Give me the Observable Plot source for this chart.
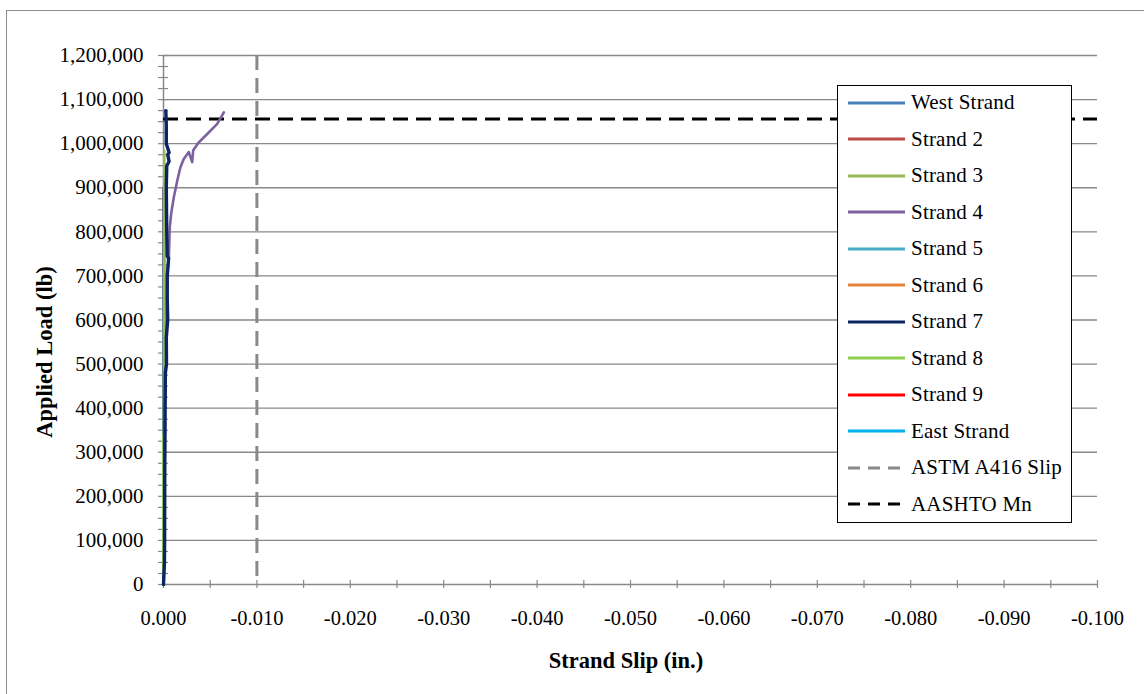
<!DOCTYPE html>
<html><head><meta charset="utf-8">
<script src="https://cdn.jsdelivr.net/npm/d3@7"></script>
<script src="https://cdn.jsdelivr.net/npm/@observablehq/plot@0.6"></script>
<style>
html,body{margin:0;padding:0;background:#fff;overflow:hidden;}
#wrap{position:relative;width:1144px;height:694px;overflow:hidden;font-family:"Liberation Serif","Times New Roman",serif;}
#chart{position:absolute;left:0;top:0;}
#frame{position:absolute;left:6px;top:10px;width:1300px;height:800px;border:1.5px solid #8c8c8c;box-sizing:border-box;pointer-events:none;}
#legend{position:absolute;left:837px;top:85px;width:235px;height:438px;border:1.5px solid #000;background:#fff;box-sizing:border-box;}
.row{position:absolute;left:0;height:36.5px;display:flex;align-items:center;font-size:21px;letter-spacing:0.2px;color:#000;white-space:nowrap;}
.row svg{margin-left:10px;margin-right:6px;}
.title{position:absolute;font-weight:bold;font-size:22.5px;white-space:nowrap;color:#000;transform:translate(-50%,-50%);line-height:1;}
#ytitle{transform:translate(-50%,-50%) rotate(-90deg);}
</style></head><body>
<div id="wrap"><div id="chart"></div><div id="frame"></div><div id="legend"></div>
<div class="title" id="xtitle" style="left:626px;top:661px;"></div>
<div class="title" id="ytitle" style="left:45px;top:352px;"></div>
</div>
<script>
// ---- Data ----
const xTitle = "Strand Slip (in.)";
const yTitle = "Applied Load (lb)";
const seriesNames = ["West Strand","Strand 2","Strand 3","Strand 4","Strand 5","Strand 6","Strand 7","Strand 8","Strand 9","East Strand"];
const seriesColors = ["#4a7ebb","#be4b48","#98b954","#7d60a0","#4bacc6","#e5853e","#0b2463","#92d050","#ff0000","#00b0f0"];

const loadWest = [0, 300000, 600000, 900000];
const slipWest = [0, -0.00002, -0.00004, -0.00005];
const load2 = [0, 300000, 600000, 900000];
const slip2 = [0, -0.00002, -0.00003, -0.00004];
const load3 = [0, 200000, 400000, 600000, 800000, 900000, 984000];
const slip3 = [0, -0.00003, -0.00005, -0.00007, -0.00008, -0.00008, -0.00008];
const load4 = [0, 200000, 400000, 600000, 700000, 742000, 810000, 841000, 878000, 916000, 947000, 965000, 981000, 958000, 985000, 1003000, 1022000, 1045000, 1071000];
const slip4 = [0, -0.0001, -0.0002, -0.0003, -0.0004, -0.00057, -0.00067, -0.00082, -0.0011, -0.00147, -0.00182, -0.00217, -0.00271, -0.00307, -0.00318, -0.00378, -0.00468, -0.00575, -0.00646];
const load5 = [0, 300000, 600000, 900000];
const slip5 = [0, -0.00001, -0.00003, -0.00004];
const load6 = [0, 300000, 600000, 900000];
const slip6 = [0, -0.00002, -0.00003, -0.00005];
const load7 = [0, 50000, 100000, 200000, 300000, 400000, 480000, 500000, 560000, 600000, 650000, 700000, 740000, 745000, 800000, 900000, 950000, 960000, 975000, 980000, 1000000, 1040000, 1075000];
const slip7 = [0, -0.0001, -0.00012, -0.00013, -0.00014, -0.00016, -0.0002, -0.00032, -0.0003, -0.00045, -0.0004, -0.0004, -0.00055, -0.0004, -0.00035, -0.0003, -0.00035, -0.0006, -0.00045, -0.0006, -0.0003, -0.0003, -0.00025];
const load8 = [0, 100000, 200000, 300000, 340000];
const slip8 = [0, 0, 0, -0.00001, -0.00001];
const load9 = [0, 300000, 600000, 900000];
const slip9 = [0, -0.00001, -0.00002, -0.00003];
const loadEast = [0, 300000, 600000, 900000];
const slipEast = [0, -0.00001, -0.00002, -0.00004];

const astmSlip = -0.010;       // ASTM A416 slip limit
const aashtoMn = 1056000;      // AASHTO Mn load

const yMajorTicks = d3.range(1, 13).map(i => i * 100000);
const yLabelTicks = d3.range(0, 13).map(i => i * 100000);
const yMinorTicks = d3.range(0, 49).map(i => i * 25000);
const xMajorTicks = d3.range(0, 11).map(i => -i / 100);
const xMinorTicks = d3.range(0, 21).map(i => -i / 200);

// ---- Build ----
const loads = [loadWest, load2, load3, load4, load5, load6, load7, load8, load9, loadEast];
const slips = [slipWest, slip2, slip3, slip4, slip5, slip6, slip7, slip8, slip9, slipEast];
const series = seriesNames.map((name, i) => ({
  name, color: seriesColors[i],
  data: loads[i].map((l, j) => ({load: l, slip: slips[i][j]}))
}));
// draw order: near-zero strands first, then visible ones
const drawOrder = [0, 1, 4, 5, 8, 9, 3, 2, 7, 6];
const widths = {6: 3.4};

const fmtY = d3.format(",");
const fmtX = d => d === 0 ? "0.000" : "-" + Math.abs(d).toFixed(3);
const grey = "#898989";

const chart = Plot.plot({
  width: 1144, height: 694,
  marginLeft: 163, marginRight: 47, marginTop: 55, marginBottom: 110,
  style: {fontFamily: "'Liberation Serif', 'Times New Roman', serif", fontSize: "21px", background: "transparent", color: "#000"},
  x: {domain: [0, -0.1]},
  y: {domain: [0, 1200000]},
  marks: [
    Plot.gridY(yMajorTicks, {stroke: grey, strokeOpacity: 1, strokeWidth: 1.3}),
    Plot.ruleX([0], {stroke: grey, strokeWidth: 1.5}),
    Plot.ruleY([0], {stroke: grey, strokeWidth: 1.5}),
    Plot.axisY(yMinorTicks, {tickSize: 10, dx: 5, fill: "none", stroke: grey, strokeWidth: 1.2, label: null}),
    Plot.axisY(yLabelTicks, {tickSize: 0, tickPadding: 20, tickFormat: fmtY, label: null, fill: "#000", fontSize: 21}),
    Plot.axisX(xMinorTicks, {tickSize: 8, dy: -4, fill: "none", stroke: grey, strokeWidth: 1.2, label: null}),
    Plot.axisX(xMajorTicks, {tickSize: 0, tickPadding: 26, tickFormat: fmtX, label: null, fill: "#000", fontSize: 20.5}),
    Plot.ruleX([astmSlip], {stroke: grey, strokeWidth: 3, strokeDasharray: "15,8"}),
    Plot.ruleY([aashtoMn], {stroke: "#000", strokeWidth: 3, strokeDasharray: "15,8"}),
    ...drawOrder.map(i => Plot.line(series[i].data, {x: "slip", y: "load", stroke: series[i].color, strokeWidth: widths[i] || 2.6}))
  ]
});
document.getElementById("chart").appendChild(chart);
document.getElementById("xtitle").textContent = xTitle;
document.getElementById("ytitle").textContent = yTitle;

// ---- Legend ----
const legendItems = series.map(s => ({name: s.name, color: s.color, dash: null}))
  .concat([{name: "ASTM A416 Slip", color: grey, dash: "12,8"}, {name: "AASHTO Mn", color: "#000", dash: "12,8"}]);
const legend = document.getElementById("legend");
legendItems.forEach((it, i) => {
  const row = document.createElement("div");
  row.className = "row";
  row.style.top = (i * 36.5 - 1.5) + "px";
  row.innerHTML = `<svg width="57" height="6"><line x1="0" x2="57" y1="3" y2="3" stroke="${it.color}" stroke-width="3" ${it.dash ? `stroke-dasharray="${it.dash}"` : ""}/></svg><span>${it.name}</span>`;
  legend.appendChild(row);
});
</script></body></html>
